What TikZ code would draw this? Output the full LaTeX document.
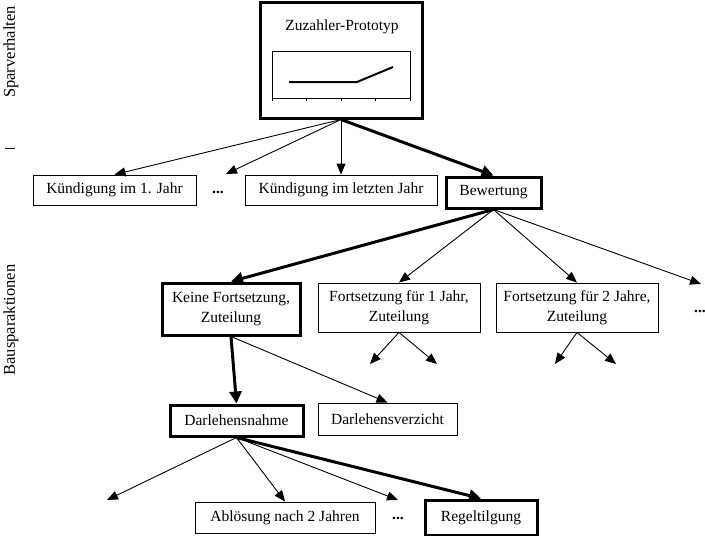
\documentclass[tikz,border=0pt]{standalone}
\usepackage{fontspec}
\setmainfont{Liberation Serif}
\usetikzlibrary{arrows.meta}
\begin{document}
\begin{tikzpicture}[x=1pt,y=-1pt,
  every node/.style={font=\fontsize{15.5}{19.5}\selectfont, inner sep=0pt},
  thinbox/.style={draw, line width=0.9pt, align=center},
  thickbox/.style={draw, line width=3pt, align=center},
  thinarrow/.style={line width=0.9pt, -{Triangle[length=11pt,width=9pt]}},
  thickarrow/.style={line width=3pt, -{Triangle[length=12pt,width=12pt]}},
  lbl/.style={rotate=90, font=\fontsize{16.5}{20}\selectfont}]
\useasboundingbox (0,0) rectangle (705,536);
% side labels
\node[lbl] (spar) at (11,52) {Sparverhalten};
\node[lbl] (baus) at (11,320) {Bausparaktionen};
\coordinate (sepL) at (5,148);
\coordinate (sepR) at (15,148);
\draw[line width=0.9pt] (sepL) -- (sepR);
% top box
\node[thickbox, minimum width=162pt, minimum height=116pt] (top) at (341,60) {};
\node (title) at (342,27) {Zuzahler-Prototyp};
\draw[line width=0.9pt] (272,51) rectangle (410,98);
\foreach \xx in {272,306.5,341,375.5,410} {\draw[line width=0.7pt] (\xx,98) -- (\xx,101);}
\draw[line width=2pt] (289,82) -- (357,82) -- (393,67);
% level 1
\node[thinbox, minimum width=163pt, minimum height=30pt] (k1) at (114.5,190) {Kündigung im 1. Jahr};
\node (dots1) at (218,192) {\textbf{...}};
\coordinate (d1) at (226,174);
\node[thinbox, minimum width=192pt, minimum height=30pt] (kl) at (341,190) {Kündigung im letzten Jahr};
\node[thickbox, minimum width=95pt, minimum height=31pt] (bew) at (493.5,192.5) {Bewertung};
\draw[thinarrow] (top.south) -- (k1.north);
\draw[thinarrow] (top.south) -- (d1);
\draw[thinarrow] (top.south) -- (kl.north);
\draw[thickarrow] (top.south) -- (bew.north);
% level 2
\node[thickbox, minimum width=138pt, minimum height=52pt] (keine) at (231,309) {Keine Fortsetzung,\\Zuteilung};
\node[thinbox, minimum width=162pt, minimum height=49pt] (f1) at (399,307.5) {Fortsetzung für 1 Jahr,\\Zuteilung};
\node[thinbox, minimum width=162pt, minimum height=49pt] (f2) at (577,307.5) {Fortsetzung für 2 Jahre,\\Zuteilung};
\node (dots2) at (700,311) {\textbf{...}};
\coordinate (d2) at (701,284);
\draw[thickarrow] (bew.south) -- (keine.north);
\draw[thinarrow] (bew.south) -- (f1.north);
\draw[thinarrow] (bew.south) -- (f2.north);
\draw[thinarrow] (bew.south) -- (d2);
% sub-arrows under F boxes
\coordinate (f1a) at (370,364);
\coordinate (f1b) at (437,364);
\coordinate (f2a) at (555,364);
\coordinate (f2b) at (616,364);
\draw[thinarrow] (f1.south) -- (f1a);
\draw[thinarrow] (f1.south) -- (f1b);
\draw[thinarrow] (f2.south) -- (f2a);
\draw[thinarrow] (f2.south) -- (f2b);
% level 3
\node[thickbox, minimum width=133pt, minimum height=31pt] (dn) at (236.5,420.5) {Darlehensnahme};
\node[thinbox, minimum width=139pt, minimum height=32pt] (dv) at (387.5,419) {Darlehensverzicht};
\draw[thickarrow] (keine.south) -- (dn.north);
\draw[thinarrow] (keine.south) -- (dv.north);
% level 4
\node[thinbox, minimum width=180pt, minimum height=31pt] (abl) at (285,517.5) {Ablösung nach 2 Jahren};
\node (dots3) at (398,518) {\textbf{...}};
\node[thickbox, minimum width=112pt, minimum height=35pt] (reg) at (481,517.5) {Regeltilgung};
\coordinate (d3a) at (107,500);
\coordinate (d3b) at (398,500);
\draw[thinarrow] (dn.south) -- (d3a);
\draw[thinarrow] (dn.south) -- (abl.north);
\draw[thinarrow] (dn.south) -- (d3b);
\draw[thickarrow] (dn.south) -- (reg.north);
\end{tikzpicture}
\end{document}
